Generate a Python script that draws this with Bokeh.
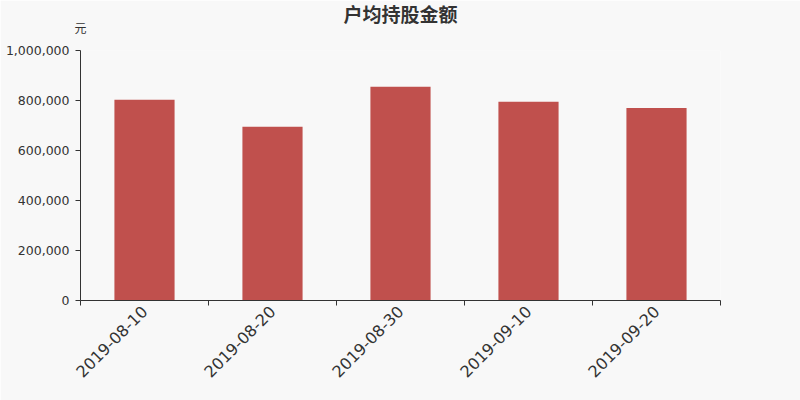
from bokeh.plotting import figure
from bokeh.models import FixedTicker, NumeralTickFormatter, LinearAxis, Range1d
from bokeh.embed import file_html
from bokeh.resources import INLINE
import math

dates = ["2019-08-10", "2019-08-20", "2019-08-30", "2019-09-10", "2019-09-20"]
values = [803000, 695000, 855000, 795000, 770000]
y_ticks = [0, 200000, 400000, 600000, 800000, 1000000]
title_text = "户均持股金额"
unit_text = "元"

n = len(dates)
xs = [i + 0.5 for i in range(n)]

p = figure(width=800, height=400, output_backend="svg", toolbar_location=None,
           x_range=Range1d(0, n), y_range=Range1d(0, 1000000),
           frame_width=640, frame_height=250, title=None,
           min_border_left=80, min_border_right=80, min_border_top=50, min_border_bottom=100,
           background_fill_color="#f8f8f8", border_fill_color="#f8f8f8")
p.outline_line_color = None
p.xgrid.visible = False
p.ygrid.visible = False

p.vbar(x=xs, top=values, width=0.47, bottom=0, fill_color="#c0504d", line_color=None)

# x axis
xa = p.xaxis[0]
xa.ticker = FixedTicker(ticks=xs, minor_ticks=list(range(n + 1)))
xa.major_label_overrides = {x: d for x, d in zip(xs, dates)}
xa.major_tick_out = 0
xa.major_tick_in = 0
xa.minor_tick_out = 5
xa.minor_tick_in = 0
xa.minor_tick_line_color = "#333333"
xa.axis_line_color = "#333333"
xa.major_label_orientation = math.pi / 4
xa.major_label_text_font = "DejaVu Sans"
xa.major_label_text_font_size = "16px"
xa.major_label_text_color = "#333333"
xa.major_label_standoff = 3

# y axis
ya = p.yaxis[0]
ya.ticker = FixedTicker(ticks=y_ticks, minor_ticks=[])
ya.formatter = NumeralTickFormatter(format="0,0")
ya.major_tick_out = 5
ya.major_tick_in = 0
ya.major_tick_line_color = "#333333"
ya.axis_line_color = "#333333"
ya.major_label_text_font = "DejaVu Sans"
ya.major_label_text_font_size = "12.5px"
ya.major_label_text_color = "#333333"
ya.major_label_standoff = 6

# top axis carrying the unit label and the chart title
cjk = "DejaVu Sans, Noto Sans CJK SC"
ta = LinearAxis(ticker=FixedTicker(ticks=[0], minor_ticks=[]),
                major_label_overrides={0: unit_text},
                axis_label=title_text)
ta.axis_line_color = None
ta.major_tick_line_color = None
ta.minor_tick_line_color = None
ta.major_tick_out = 0
ta.major_tick_in = 0
ta.major_label_standoff = 15
ta.major_label_text_font = cjk
ta.major_label_text_font_size = "12px"
ta.major_label_text_color = "#333333"
ta.axis_label_standoff = -7
ta.axis_label_text_font = cjk
ta.axis_label_text_font_size = "19px"
ta.axis_label_text_font_style = "bold"
ta.axis_label_text_color = "#333333"
p.add_layout(ta, "above")

open("out.html", "w").write(file_html(p, INLINE))
